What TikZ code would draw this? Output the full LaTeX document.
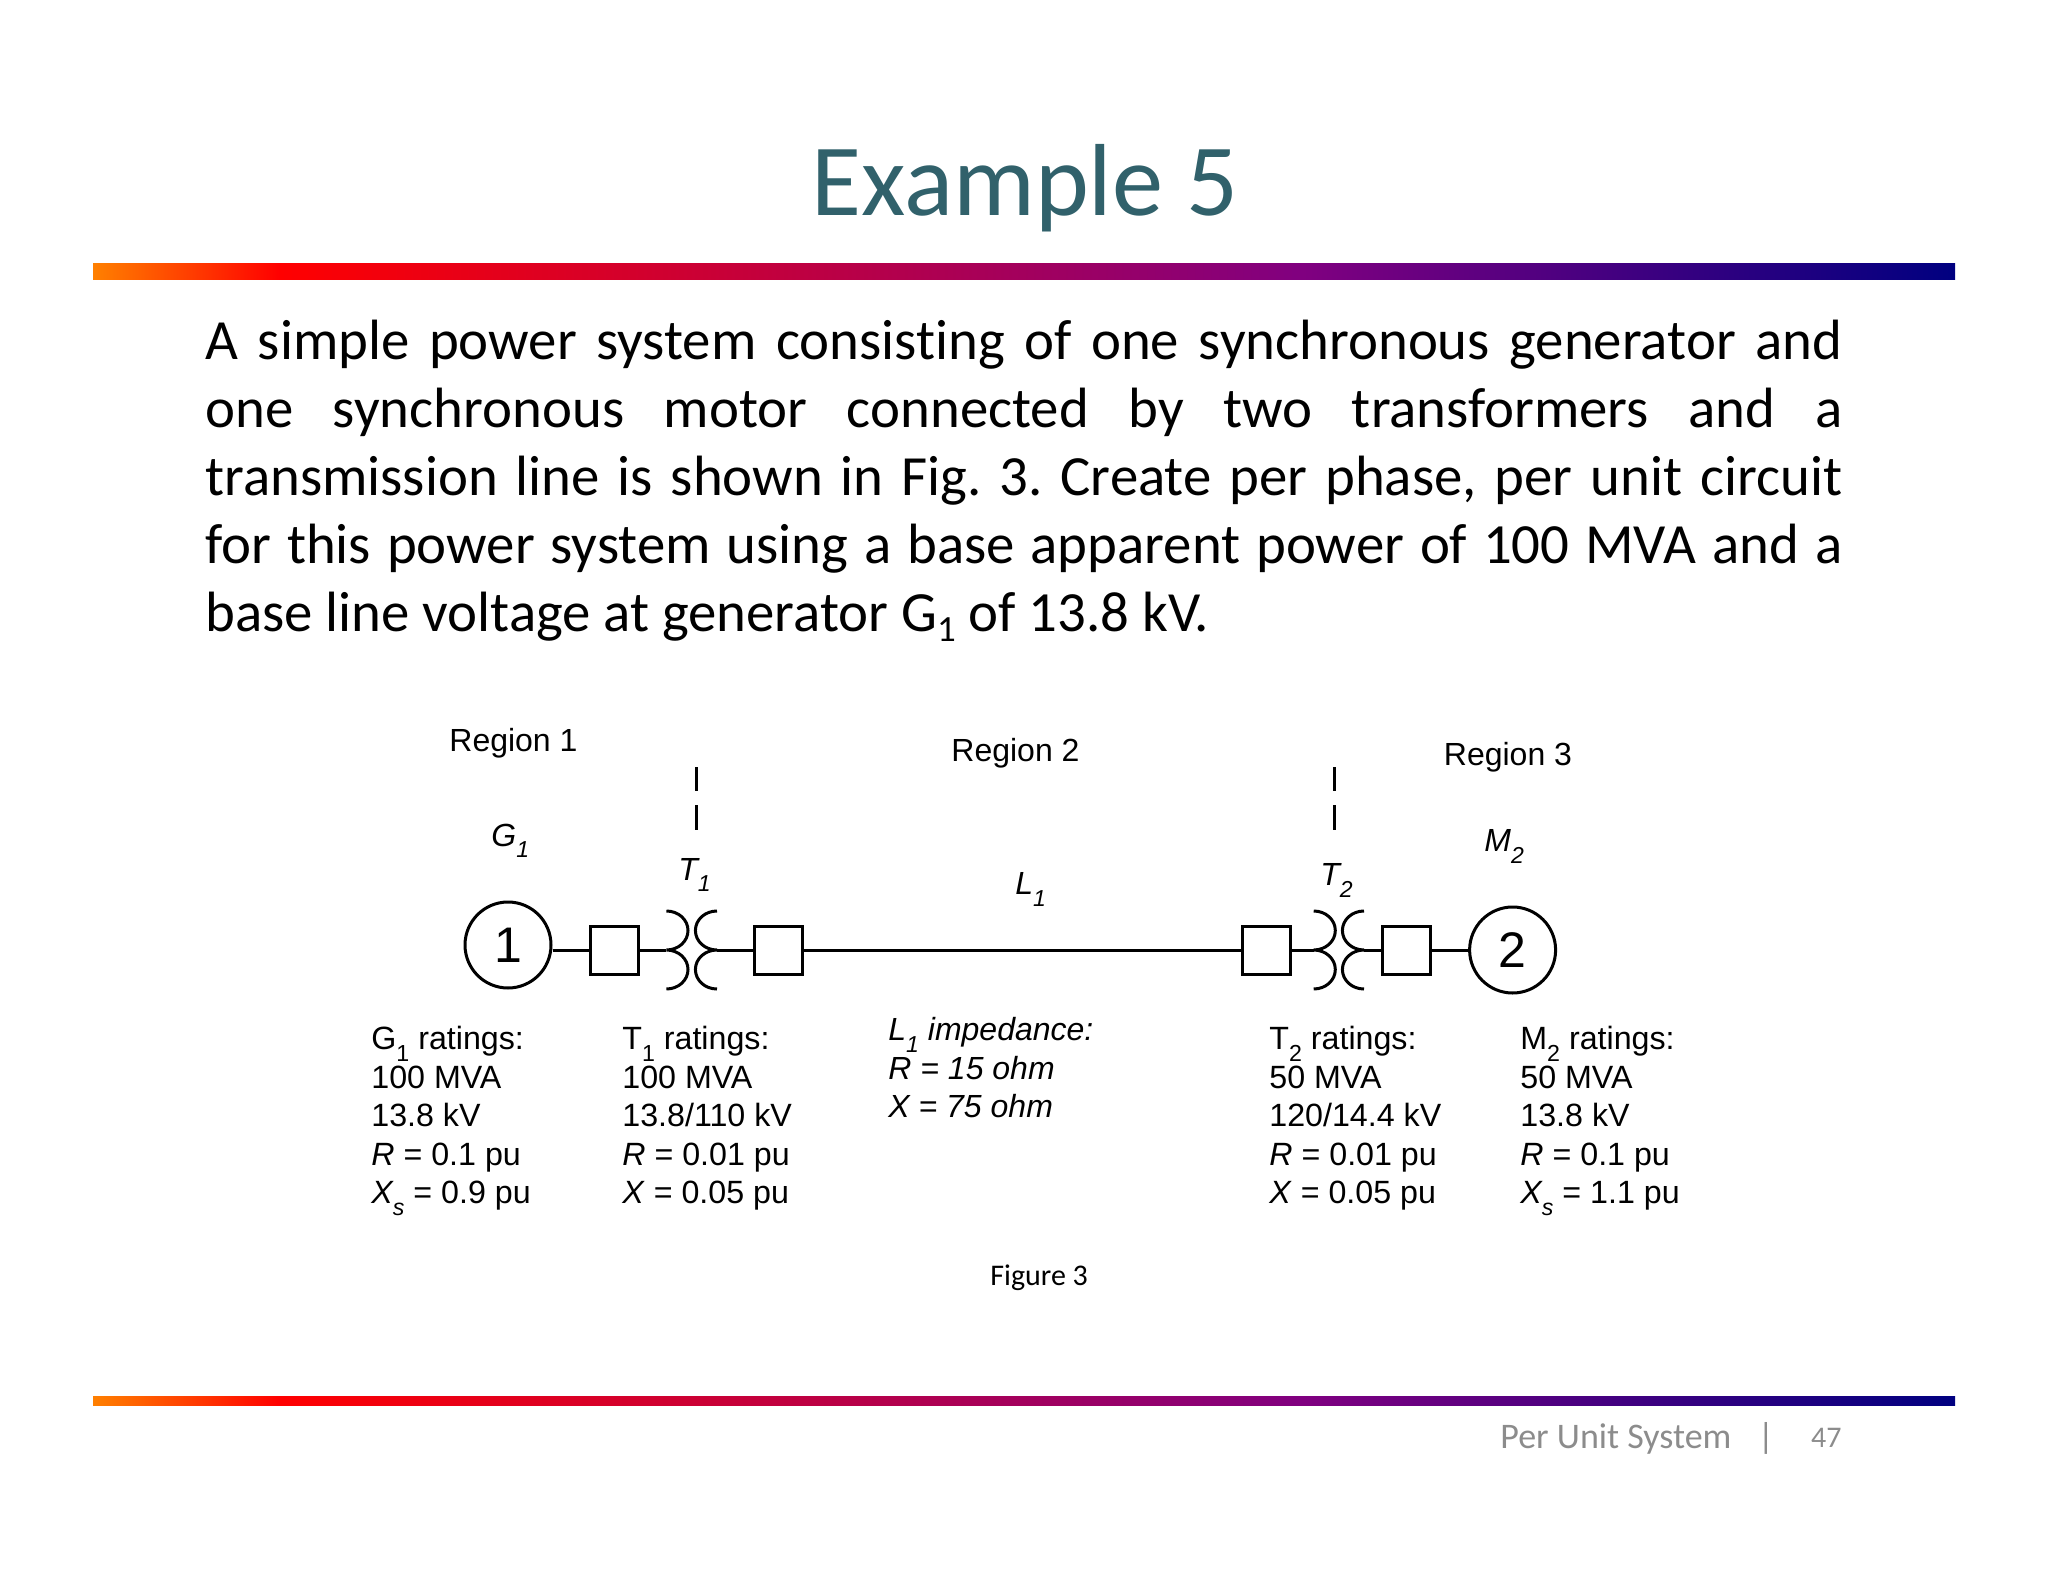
\documentclass[tikz,border=0pt]{standalone}
\usepackage{fontspec}
\setmainfont{Carlito}[Ligatures=CommonOff]
\newfontfamily\arialfont{Liberation Sans}
\definecolor{barorange}{HTML}{FF8000}
\definecolor{barred}{HTML}{FF0000}
\definecolor{barpurple}{HTML}{800080}
\definecolor{barnavy}{HTML}{000080}
\definecolor{titleteal}{HTML}{31616B}
\definecolor{footgrey}{HTML}{8C8C8C}
\pgfdeclarehorizontalshading{rainbowbar}{100bp}{color(0bp)=(barorange); color(25bp)=(barorange); color(30bp)=(barred); color(57.5bp)=(barpurple); color(75bp)=(barnavy); color(100bp)=(barnavy)}
\newcommand\dn[1]{\raisebox{-.36em}{\scalebox{.72}{#1}}}
\newcommand\dnb[1]{\raisebox{-.18em}{\scalebox{.65}{#1}}}
\newcommand\firstline{\rule{0pt}{12pt}}
\tikzset{
  x=0.5pt,y=-0.5pt,
  wire/.style={draw=black,line width=1.5pt},
  machine/.style={wire,circle,fill=white,minimum size=43pt,inner sep=0pt,font=\arialfont\fontsize{25}{30}\selectfont},
  bkr/.style={wire,rectangle,fill=white,minimum width=24pt,minimum height=24pt,inner sep=0pt},
  lbl/.style={anchor=base west,inner sep=0pt,font=\arialfont\fontsize{16}{19.25}\selectfont},
  ratings/.style={anchor=north west,inner sep=0pt,align=left,font=\arialfont\fontsize{16.1}{19.25}\selectfont},
  pics/coil/.style={code={\draw[wire] (0,-39) .. controls (12,-39) and (21.6,-30.3) .. (21.6,-19.5) .. controls (21.6,-8.7) and (12,0) .. (0,0) .. controls (12,0) and (21.6,8.7) .. (21.6,19.5) .. controls (21.6,30.3) and (12,39) .. (0,39);}},
}
\begin{document}
\begin{tikzpicture}
\useasboundingbox (0,0) rectangle (2048,1582);
% title and rules
\node[anchor=base,inner sep=0pt,text=titleteal,font=\fontsize{51.2}{60}\selectfont] (title) at (1025,216) {Example 5};
\shade[shading=rainbowbar] (93,264) rectangle (1955,280);
\shade[shading=rainbowbar] (93,1396) rectangle (1955,1405);
% body
\node[anchor=north west,inner sep=0pt,text width=818.5pt,align=justify,font=\frenchspacing\fontsize{28.4}{34}\selectfont] (body) at (205,315) {\rule{0pt}{22pt}A simple power system consisting of one synchronous generator and\linebreak one synchronous motor connected by two transformers and a\linebreak transmission line is shown in Fig. 3. Create per phase, per unit circuit\linebreak for this power system using a base apparent power of 100 MVA and a\linebreak base line voltage at generator G\dnb{1} of 13.8 kV.};
% one-line diagram
\node[machine] (c1) at (508,945) {1};
\node[machine] (c2) at (1512.6,950) {2};
\node[bkr] (b1) at (614.6,950) {};
\node[bkr] (b2) at (778.7,950) {};
\node[bkr] (b3) at (1266.2,950) {};
\node[bkr] (b4) at (1406.5,950) {};
\coordinate (t1l) at (666.4,950);
\coordinate (t1r) at (717,950);
\coordinate (t2l) at (1313.7,950);
\coordinate (t2r) at (1364,950);
\pic at (t1l) {coil};
\pic[xscale=-1] at (t1r) {coil};
\pic at (t2l) {coil};
\pic[xscale=-1] at (t2r) {coil};
\draw[wire] (b1.west) -- (b1.west -| c1.east);
\draw[wire] (b1.east) -- (t1l);
\draw[wire] (t1r) -- (b2.west);
\draw[wire] (b2.east) -- (b3.west);
\draw[wire] (b3.east) -- (t2l);
\draw[wire] (t2r) -- (b4.west);
\draw[wire] (b4.east) -- (c2.west);
% region dividers
\coordinate (d1a) at (696.8,767);
\coordinate (d1b) at (696.8,791);
\coordinate (d1c) at (696.8,805);
\coordinate (d1d) at (696.8,830);
\coordinate (d2a) at (1334,767);
\coordinate (d2b) at (1334,791);
\coordinate (d2c) at (1334,805);
\coordinate (d2d) at (1334,830);
\draw[wire] (d1a) -- (d1b);
\draw[wire] (d1c) -- (d1d);
\draw[wire] (d2a) -- (d2b);
\draw[wire] (d2c) -- (d2d);
% labels
\node[lbl] (r1) at (449,751) {Region 1};
\node[lbl] (r2) at (951,761) {Region 2};
\node[lbl] (r3) at (1443.5,765.5) {Region 3};
\node[lbl] (g1) at (491,846) {\itshape G\dn{1}};
\node[lbl] (t1) at (678,880) {\itshape T\dn{1}};
\node[lbl] (l1) at (1015,894.6) {\itshape L\dn{1}};
\node[lbl] (t2) at (1320,885.7) {\itshape T\dn{2}};
\node[lbl] (m2) at (1484,851.8) {\itshape M\dn{2}};
\node[ratings] (rg) at (371,1025.5) {\firstline G\dn{1} ratings:\\100 MVA\\13.8 kV\\\textit{R} = 0.1 pu\\\textit{X\dn{s}} = 0.9 pu};
\node[ratings] (rt1) at (622,1025.5) {\firstline T\dn{1} ratings:\\100 MVA\\13.8/110 kV\\\textit{R} = 0.01 pu\\\textit{X} = 0.05 pu};
\node[ratings,font=\arialfont\itshape\fontsize{16}{19.25}\selectfont] (rl) at (888,1016.5) {\firstline L\dn{1} impedance:\\R = 15 ohm\\X = 75 ohm};
\node[ratings] (rt2) at (1269,1025.5) {\firstline T\dn{2} ratings:\\50 MVA\\120/14.4 kV\\\textit{R} = 0.01 pu\\\textit{X} = 0.05 pu};
\node[ratings] (rm) at (1520,1025.5) {\firstline M\dn{2} ratings:\\50 MVA\\13.8 kV\\\textit{R} = 0.1 pu\\\textit{X\dn{s}} = 1.1 pu};
\node[anchor=base west,inner sep=0pt,font=\fontsize{15}{18}\selectfont] (fig) at (990,1285) {Figure 3};
% footer
\node[anchor=base west,inner sep=0pt,text=footgrey,font=\fontsize{18}{21}\selectfont] (ft) at (1500,1448) {Per Unit System};
\node[anchor=base,inner sep=0pt,text=footgrey,font=\fontsize{18}{21}\selectfont] (barsep) at (1766,1448) {|};
\node[anchor=base east,inner sep=0pt,text=footgrey,font=\fontsize{15}{18}\selectfont] (pg) at (1842,1447) {47};
\end{tikzpicture}
\end{document}
